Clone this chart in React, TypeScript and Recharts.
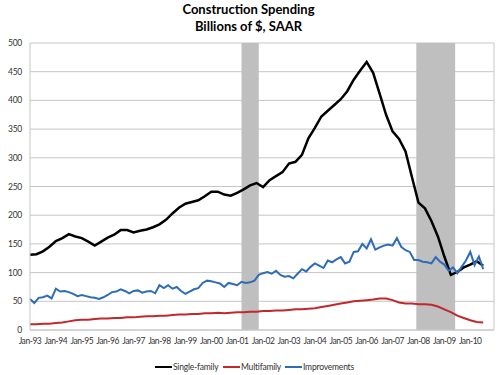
import { LineChart, Line, XAxis, YAxis, CartesianGrid, ReferenceArea, ReferenceLine } from 'recharts';

// month index 0 = Jan-93
const tickLabels = [
  'Jan-93', 'Jan-94', 'Jan-95', 'Jan-96', 'Jan-97', 'Jan-98', 'Jan-99', 'Jan-00', 'Jan-01',
  'Jan-02', 'Jan-03', 'Jan-04', 'Jan-05', 'Jan-06', 'Jan-07', 'Jan-08', 'Jan-09', 'Jan-10',
];
const yTicks = [0, 50, 100, 150, 200, 250, 300, 350, 400, 450, 500];

// recessions, [start month, end month]
const recessions = [
  [98, 106],
  [179, 197],
];

// quarterly (every 3 months)
const singleFamily = [
  131, 132, 137, 145,
  155, 160, 167, 163,
  160, 154, 147, 154,
  161, 166, 174, 174,
  170, 173, 175, 179,
  184, 192, 203, 213,
  220, 223, 226, 233,
  241, 241, 236, 234,
  239, 245, 252, 256,
  249, 261, 268, 275,
  290, 293, 305, 334,
  352, 372, 382, 392,
  402, 416, 436, 452,
  467, 448, 412, 375,
  346, 333, 311, 266,
  222, 212, 190, 163,
  128, 96, 101, 109,
  114, 120, 112,
];

// quarterly (every 3 months)
const multifamily = [
  10, 10, 11, 11,
  12, 13, 15, 17,
  18, 18, 19, 20,
  20, 21, 21, 22,
  22, 23, 24, 24,
  25, 25, 26, 27,
  27, 28, 28, 29,
  29, 30, 29, 30,
  31, 31, 32, 32,
  33, 33, 34, 34,
  35, 36, 36, 37,
  38, 40, 42, 44,
  46, 48, 50, 51,
  52, 53, 55, 55,
  52, 48, 46, 46,
  45, 45, 44, 41,
  36, 31, 25, 21,
  17, 14, 13,
];

// every 2 months
const improvements = [
  54, 47, 56, 57, 60, 55,
  72, 67, 68, 66, 63, 59,
  61, 59, 57, 56, 54, 57,
  61, 66, 67, 71, 68, 64,
  68, 69, 65, 67, 68, 64,
  78, 73, 78, 72, 75, 68,
  63, 67, 71, 73, 82, 86,
  85, 83, 81, 75, 82, 80,
  78, 84, 82, 83, 86, 96,
  99, 101, 98, 103, 96, 93,
  94, 90, 98, 106, 102, 110,
  116, 112, 108, 121, 118, 123,
  127, 116, 119, 136, 137, 150,
  142, 158, 140, 144, 147, 149,
  147, 160, 145, 139, 136, 122,
  122, 119, 118, 116, 127, 119,
  114, 103, 109, 99, 110, 121,
  136, 113, 128, 106,
];

const sfData = singleFamily.map((v, i) => ({ m: i * 3, v }));
const mfData = multifamily.map((v, i) => ({ m: i * 3, v }));
const impData = improvements.map((v, i) => ({ m: i * 2, v }));
const xTicks = tickLabels.map((_, i) => i * 12);

const FONT = 'Lato, "Liberation Sans", sans-serif';
const GRID = '#c6c6c6';

const legendItems = [
  { name: 'Single-family', color: '#000000', x: 155 },
  { name: 'Multifamily', color: '#c0282d', x: 223 },
  { name: 'Improvements', color: '#2e6cb8', x: 285 },
];

export default function App() {
  return (
    <div style={{ position: 'absolute', left: 0, top: 0, width: 500, height: 375, background: '#fff', fontFamily: FONT }}>
      <div style={{ position: 'absolute', left: 0, top: 1, width: 497, textAlign: 'center', fontWeight: 700, fontSize: 13, lineHeight: '17px', color: '#000' }}>
        <div>Construction Spending</div>
        <div>Billions of $, SAAR</div>
      </div>
      <LineChart width={500} height={375} margin={{ top: 43, right: 6, left: 0, bottom: 25 }}>
        <CartesianGrid vertical={false} stroke={GRID} strokeWidth={1} />
        <XAxis
          type="number"
          dataKey="m"
          domain={[0, 215]}
          ticks={xTicks}
          tickFormatter={(m: number) => tickLabels[m / 12]}
          interval={0}
          tickLine={false}
          axisLine={{ stroke: GRID }}
          tick={{ fill: '#333', fontSize: 8.5, fontFamily: FONT, letterSpacing: -0.45 }}
          height={20}
          allowDuplicatedCategory={false}
        />
        <YAxis
          domain={[0, 500]}
          ticks={yTicks}
          tickLine={false}
          axisLine={{ stroke: GRID }}
          tick={{ fill: '#333', fontSize: 8.5, fontFamily: FONT, letterSpacing: -0.3 }}
          width={30}
        />
        {recessions.map(([a, b]) => (
          <ReferenceArea key={a} x1={a} x2={b} y1={0} y2={500} fill="#bfbfbf" fillOpacity={1} stroke="none" />
        ))}
        <ReferenceLine x={215} stroke={GRID} />
        <Line data={sfData} dataKey="v" name="Single-family" stroke="#000000" strokeWidth={2.5} dot={false} isAnimationActive={false} />
        <Line data={mfData} dataKey="v" name="Multifamily" stroke="#c0282d" strokeWidth={2} dot={false} isAnimationActive={false} />
        <Line data={impData} dataKey="v" name="Improvements" stroke="#2e6cb8" strokeWidth={2} dot={false} isAnimationActive={false} />
      </LineChart>
      {legendItems.map((it) => (
        <div key={it.name} style={{ position: 'absolute', left: it.x, top: 362, display: 'flex', alignItems: 'center', fontSize: 8.5, letterSpacing: -0.2, color: '#333' }}>
          <span style={{ display: 'inline-block', width: 17, height: 2, background: it.color, marginRight: 1 }} />
          <span>{it.name}</span>
        </div>
      ))}
    </div>
  );
}
